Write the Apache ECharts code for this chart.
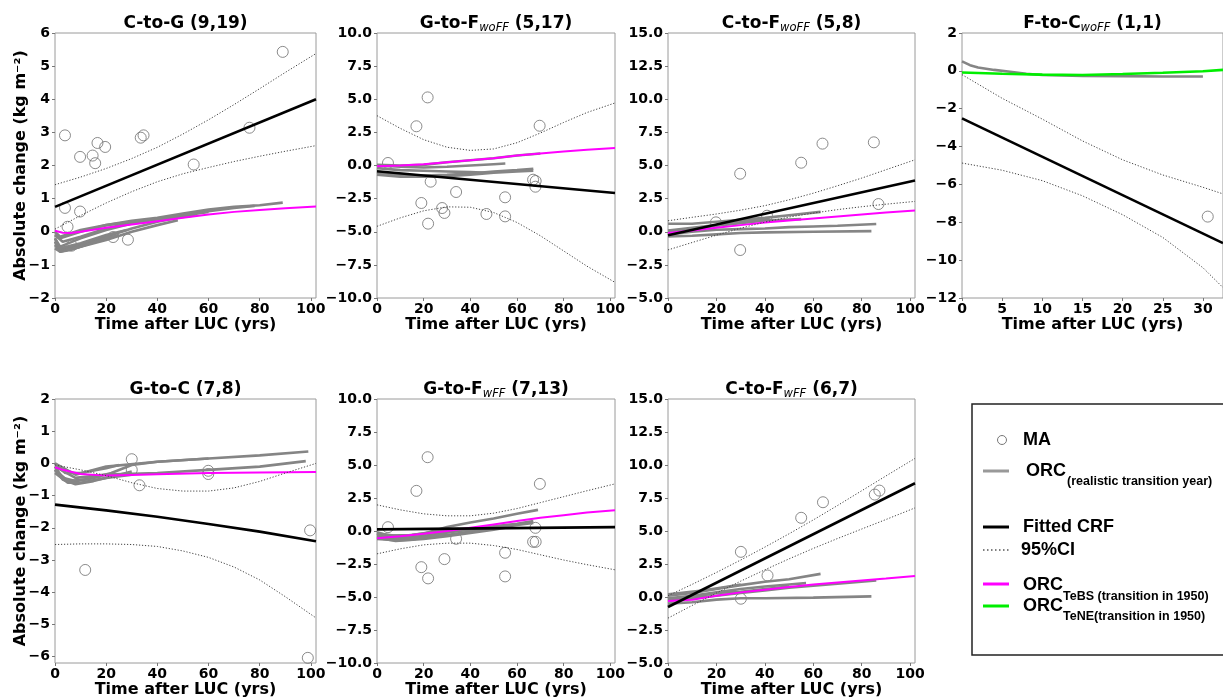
<!DOCTYPE html>
<html><head><meta charset="utf-8">
<script src="https://cdn.jsdelivr.net/npm/echarts@6/dist/echarts.min.js"></script>
<style>html,body{margin:0;padding:0;background:#fff}#c{width:1223px;height:700px}</style>
</head><body><div id="c"></div>
<script>
// ---------- tick labels ----------
const X_TICKS = [0,20,40,60,80,100];
const X_TICKS_FC = [0,5,10,15,20,25,30];
const Y_TICKS_CG = [-2,-1,0,1,2,3,4,5,6];
const Y_TICKS_GF = [-10,-7.5,-5,-2.5,0,2.5,5,7.5,10];
const Y_TICKS_CF = [-5,-2.5,0,2.5,5,7.5,10,12.5,15];
const Y_TICKS_FC = [-12,-10,-8,-6,-4,-2,0,2];
const Y_TICKS_GC = [-6,-5,-4,-3,-2,-1,0,1,2];

// ---------- C-to-G ----------
const cgMA = [[3.9,2.91],[9.8,2.26],[14.7,2.30],[16.6,2.68],[15.7,2.07],[19.6,2.56],[33.5,2.84],[34.6,2.91],[54.2,2.03],[76,3.14],[89,5.43],[3.9,0.72],[9.8,0.61],[4.9,0.15],[6.5,-0.42],[22.7,-0.16],[28.5,-0.24]];
const cgFit = [[0,0.75],[102,4.0]];
const cgUp = [[0,1.42],[10,1.65],[20,1.91],[30,2.21],[40,2.55],[50,2.95],[60,3.38],[70,3.84],[80,4.32],[90,4.81],[102,5.38]];
const cgLo = [[0,0.08],[10,0.49],[20,0.87],[30,1.21],[40,1.51],[50,1.75],[60,1.94],[70,2.12],[80,2.28],[90,2.43],[102,2.6]];
const cgTeBS = [[0,0.03],[3,-0.03],[6,-0.04],[10,0.0],[20,0.12],[30,0.22],[40,0.32],[50,0.42],[60,0.52],[70,0.6],[80,0.66],[90,0.71],[102,0.76]];
const cgORC = [
 [[0,-0.1],[2,-0.2],[10,0.0],[20,0.2],[30,0.33],[40,0.42],[50,0.55],[60,0.67],[70,0.75],[80,0.8],[89,0.88]],
 [[0,-0.2],[2,-0.45],[10,-0.2],[20,0.05],[30,0.25],[40,0.38],[50,0.5],[60,0.62],[70,0.72],[78,0.78]],
 [[0,-0.3],[2,-0.55],[10,-0.4],[20,-0.15],[30,0.1],[40,0.3],[50,0.45],[55,0.5]],
 [[0,-0.4],[2,-0.6],[10,-0.45],[20,-0.25],[30,0.0],[40,0.2],[48,0.35]],
 [[0,-0.1],[3,-0.3],[10,-0.15],[20,0.1],[30,0.28],[35,0.35]],
 [[0,-0.3],[2,-0.55],[8,-0.5],[15,-0.3],[25,-0.1]],
 [[0,-0.2],[2,-0.5],[10,-0.35],[20,-0.1],[28,0.05]],
 [[0,-0.5],[2,-0.6],[6,-0.55],[12,-0.4],[18,-0.25]],
 [[0,0.0],[2,-0.15],[10,0.05],[20,0.2],[30,0.3],[40,0.38],[60,0.6]]
];

// ---------- G-to-F woFF ----------
const gfwoMA = [[4.7,0.19],[16.9,2.96],[21.7,5.14],[23,-1.22],[19,-2.83],[27.9,-3.21],[28.9,-3.58],[21.9,-4.39],[33.9,-2.0],[46.9,-3.66],[54.9,-2.40],[54.9,-3.84],[66.9,-1.07],[68,-1.17],[67.9,-1.6],[69.7,3.0]];
const gfwoFit = [[0,-0.44],[102,-2.08]];
const gfwoUp = [[0,3.76],[10,2.8],[20,1.95],[30,1.38],[40,1.14],[50,1.25],[60,1.72],[70,2.45],[80,3.25],[90,4.0],[102,4.72]];
const gfwoLo = [[0,-4.59],[10,-3.95],[20,-3.42],[30,-3.12],[40,-3.15],[50,-3.55],[60,-4.3],[70,-5.3],[80,-6.45],[90,-7.6],[102,-8.82]];
const gfwoTeBS = [[0,-0.05],[10,0.0],[20,0.1],[30,0.25],[40,0.4],[50,0.55],[60,0.75],[70,0.9],[80,1.05],[90,1.18],[102,1.32]];
const gfwoORC = [
 [[0,0.05],[10,0.0],[20,0.05],[30,0.25],[40,0.4],[50,0.55],[60,0.75],[70,0.9]],
 [[0,0.0],[10,-0.1],[20,-0.15],[30,-0.1],[40,0.0],[50,0.1],[55,0.15]],
 [[0,-0.2],[10,-0.35],[20,-0.4],[30,-0.45],[40,-0.5],[47,-0.55]],
 [[0,-0.55],[10,-0.7],[20,-0.75],[30,-0.7],[40,-0.6],[50,-0.45],[60,-0.35],[67,-0.25]],
 [[0,-0.7],[10,-0.85],[20,-0.85],[30,-0.8],[40,-0.7],[50,-0.55],[60,-0.45],[67,-0.4]]
];

// ---------- C-to-F woFF ----------
const cfwoMA = [[29.8,4.38],[29.8,-1.38],[19.8,0.71],[40.9,1.21],[55,5.21],[63.8,6.65],[85,6.75],[86.9,2.09]];
const cfwoFit = [[0,-0.27],[102,3.86]];
const cfwoUp = [[0,0.83],[10,1.09],[20,1.34],[30,1.63],[40,1.97],[50,2.41],[60,2.91],[70,3.47],[80,4.05],[90,4.68],[102,5.43]];
const cfwoLo = [[0,-1.37],[10,-0.81],[20,-0.26],[30,0.27],[40,0.73],[50,1.11],[60,1.41],[70,1.67],[80,1.89],[90,2.08],[102,2.29]];
const cfwoTeBS = [[0,-0.1],[10,0.1],[20,0.3],[30,0.5],[40,0.7],[50,0.85],[60,1.0],[70,1.15],[80,1.3],[90,1.45],[102,1.6]];
const cfwoORC = [
 [[0,0.6],[10,0.6],[20,0.75],[30,0.9],[40,1.05],[50,1.25],[63,1.5]],
 [[0,0.05],[10,0.2],[20,0.45],[30,0.65],[40,0.85],[55,0.95]],
 [[0,-0.2],[10,0.0],[20,0.15],[30,0.2],[40,0.25],[50,0.35],[60,0.4],[70,0.45],[86,0.58]],
 [[0,-0.35],[10,-0.3],[20,-0.2],[30,-0.1],[40,-0.05],[60,0.0],[84,0.05]],
 [[0,0.1],[10,0.3],[20,0.5],[30,0.75],[40,0.95],[42,1.0]]
];

// ---------- F-to-C woFF ----------
const fcMA = [[30.6,-7.7]];
const fcFit = [[0,-2.51],[32.5,-9.1]];
const fcUp = [[0,-0.2],[5,-1.45],[10,-2.55],[15,-3.7],[20,-4.7],[25,-5.5],[30,-6.15],[32.5,-6.5]];
const fcLo = [[0,-4.87],[5,-5.25],[10,-5.8],[15,-6.6],[20,-7.6],[25,-8.8],[30,-10.4],[32.5,-11.45]];
const fcTeNE = [[0,-0.09],[5,-0.15],[10,-0.2],[15,-0.22],[20,-0.17],[25,-0.1],[30,-0.02],[32.5,0.05]];
const fcORC = [
 [[0,0.5],[1,0.3],[2,0.18],[4,0.05],[6,-0.05],[8,-0.15],[10,-0.22],[15,-0.27],[20,-0.28],[25,-0.3],[30,-0.3]]
];

// ---------- G-to-C ----------
const gcMA = [[30,0.13],[30,-0.2],[33,-0.68],[11.8,-3.31],[59.9,-0.23],[59.9,-0.33],[99.7,-2.08],[98.8,-6.04]];
const gcFit = [[0,-1.28],[20,-1.46],[40,-1.66],[60,-1.88],[80,-2.12],[102,-2.42]];
const gcUp = [[0,-0.05],[10,-0.2],[20,-0.38],[30,-0.6],[40,-0.78],[50,-0.86],[60,-0.86],[70,-0.76],[80,-0.56],[90,-0.3],[102,0.0]];
const gcLo = [[0,-2.52],[10,-2.5],[20,-2.5],[30,-2.52],[40,-2.58],[50,-2.72],[60,-2.92],[70,-3.22],[80,-3.62],[90,-4.14],[102,-4.8]];
const gcTeBS = [[0,-0.12],[3,-0.2],[10,-0.33],[20,-0.38],[30,-0.36],[40,-0.34],[60,-0.3],[80,-0.28],[102,-0.27]];
const gcORC = [
 [[0,0.0],[8,-0.35],[20,-0.1],[40,0.05],[60,0.15],[80,0.25],[99,0.37]],
 [[0,-0.1],[8,-0.45],[20,-0.35],[40,-0.3],[60,-0.2],[80,-0.1],[98,0.07]],
 [[0,-0.2],[3,-0.5],[8,-0.65],[15,-0.55],[25,-0.35],[30,-0.25]],
 [[0,-0.1],[3,-0.45],[8,-0.55],[15,-0.45],[22,-0.3],[30,-0.05],[40,0.05],[60,0.15]],
 [[0,-0.3],[5,-0.6],[10,-0.6],[20,-0.45],[30,-0.35]],
 [[0,0.0],[4,-0.3],[10,-0.3],[20,-0.15],[25,-0.05]],
 [[0,-0.2],[5,-0.55],[12,-0.5],[18,-0.4]]
];

// ---------- G-to-F wFF ----------
const gfwMA = [[4.7,0.29],[16.9,3.04],[21.7,5.59],[19,-2.74],[21.9,-3.59],[28.9,-2.13],[33.9,-0.59],[54.9,-1.65],[54.9,-3.44],[66.9,-0.82],[68,-0.82],[67.9,0.24],[69.8,3.57]];
const gfwFit = [[0,0.12],[102,0.29]];
const gfwUp = [[0,1.98],[10,1.6],[20,1.3],[30,1.15],[40,1.15],[50,1.35],[60,1.7],[70,2.15],[80,2.6],[90,3.05],[102,3.57]];
const gfwLo = [[0,-1.73],[10,-1.35],[20,-1.05],[30,-0.92],[40,-0.92],[50,-1.1],[60,-1.4],[70,-1.8],[80,-2.2],[90,-2.55],[102,-2.94]];
const gfwTeBS = [[0,-0.55],[10,-0.4],[20,-0.2],[30,0.0],[40,0.25],[50,0.5],[60,0.75],[70,1.0],[80,1.2],[90,1.4],[102,1.58]];
const gfwORC = [
 [[0,-0.2],[10,-0.4],[20,-0.2],[30,0.3],[40,0.65],[50,0.95],[60,1.3],[69,1.6]],
 [[0,-0.3],[8,-0.6],[20,-0.4],[30,-0.1],[40,0.15],[50,0.35],[60,0.55],[67,0.75]],
 [[0,-0.4],[8,-0.7],[20,-0.55],[30,-0.3],[40,-0.05],[50,0.2],[60,0.45],[67,0.6]],
 [[0,-0.5],[8,-0.75],[20,-0.6],[30,-0.4],[40,-0.15],[50,0.1],[55,0.25]],
 [[0,-0.2],[5,-0.5],[15,-0.5],[25,-0.25],[35,0.0],[45,0.2]],
 [[0,-0.1],[5,-0.35],[15,-0.3],[25,-0.05],[35,0.15]],
 [[0,-0.6],[8,-0.7],[15,-0.65],[25,-0.35],[30,-0.25]]
];

// ---------- C-to-F wFF ----------
const cfwMA = [[30.1,3.42],[30.1,-0.13],[41.1,1.63],[55,6.0],[64,7.18],[85.4,7.76],[87.3,8.06]];
const cfwFit = [[0,-0.76],[102,8.62]];
const cfwUp = [[0,0.1],[10,0.96],[20,1.86],[30,2.8],[40,3.78],[50,4.79],[60,5.84],[70,6.93],[80,8.05],[90,9.17],[102,10.5]];
const cfwLo = [[0,-1.6],[10,-0.64],[20,0.3],[30,1.2],[40,2.06],[50,2.89],[60,3.68],[70,4.43],[80,5.15],[90,5.87],[102,6.75]];
const cfwTeBS = [[0,-0.3],[10,-0.2],[20,0.1],[30,0.35],[40,0.55],[50,0.75],[60,0.95],[70,1.1],[80,1.25],[90,1.4],[102,1.6]];
const cfwORC = [
 [[0,0.1],[10,0.3],[20,0.6],[30,0.9],[40,1.15],[50,1.35],[63,1.75]],
 [[0,-0.1],[10,0.1],[20,0.35],[30,0.6],[40,0.8],[50,0.95],[57,1.05]],
 [[0,-0.3],[10,-0.1],[20,0.1],[30,0.3],[40,0.5],[50,0.7],[60,0.85],[70,1.0],[86,1.25]],
 [[0,-0.5],[10,-0.4],[20,-0.2],[30,-0.1],[40,-0.1],[60,-0.05],[84,0.05]],
 [[0,0.2],[5,0.3],[15,0.5],[25,0.8],[30,0.95]],
 [[0,-0.2],[10,0.0],[20,0.3],[30,0.4],[40,0.6],[50,0.8]]
];

// ---------- build ----------
const FONT = 'DejaVu Sans';
const LFONT = 'Liberation Sans';
const MINUS = '\u2212';
const fmtInt = v => (v < 0 ? MINUS : '') + Math.abs(v).toFixed(0);
const fmt1 = v => (v < 0 ? MINUS : '') + Math.abs(v).toFixed(1);

const panels = [
 {g:{left:55, top:33, width:261, height:265}, title:'{b|C-to-G (9,19)}', xmax:102, xt:X_TICKS, ymin:-2, ymax:6, yt:Y_TICKS_CG, f:fmtInt, yname:true,
  ma:cgMA, orc:cgORC, fit:cgFit, up:cgUp, lo:cgLo, teb:cgTeBS},
 {g:{left:377, top:33, width:238, height:265}, title:'{b|G-to-F}{s|woFF}{b| (5,17)}', xmax:102, xt:X_TICKS, ymin:-10, ymax:10, yt:Y_TICKS_GF, f:fmt1,
  ma:gfwoMA, orc:gfwoORC, fit:gfwoFit, up:gfwoUp, lo:gfwoLo, teb:gfwoTeBS},
 {g:{left:668, top:33, width:247, height:265}, title:'{b|C-to-F}{s|woFF}{b| (5,8)}', xmax:102, xt:X_TICKS, ymin:-5, ymax:15, yt:Y_TICKS_CF, f:fmt1,
  ma:cfwoMA, orc:cfwoORC, fit:cfwoFit, up:cfwoUp, lo:cfwoLo, teb:cfwoTeBS},
 {g:{left:962, top:33, width:261, height:265}, title:'{b|F-to-C}{s|woFF}{b| (1,1)}', xmax:32.5, xt:X_TICKS_FC, ymin:-12, ymax:2, yt:Y_TICKS_FC, f:fmtInt,
  ma:fcMA, orc:fcORC, fit:fcFit, up:fcUp, lo:fcLo, ten:fcTeNE},
 {g:{left:55, top:399, width:261, height:264}, title:'{b|G-to-C (7,8)}', xmax:102, xt:X_TICKS, ymin:-6.2, ymax:2, yt:Y_TICKS_GC, f:fmtInt, yname:true,
  ma:gcMA, orc:gcORC, fit:gcFit, up:gcUp, lo:gcLo, teb:gcTeBS},
 {g:{left:377, top:399, width:238, height:264}, title:'{b|G-to-F}{s|wFF}{b| (7,13)}', xmax:102, xt:X_TICKS, ymin:-10, ymax:10, yt:Y_TICKS_GF, f:fmt1,
  ma:gfwMA, orc:gfwORC, fit:gfwFit, up:gfwUp, lo:gfwLo, teb:gfwTeBS},
 {g:{left:668, top:399, width:247, height:264}, title:'{b|C-to-F}{s|wFF}{b| (6,7)}', xmax:102, xt:X_TICKS, ymin:-5, ymax:15, yt:Y_TICKS_CF, f:fmt1,
  ma:cfwMA, orc:cfwORC, fit:cfwFit, up:cfwUp, lo:cfwLo, teb:cfwTeBS}
];

const grid = [], xAxis = [], yAxis = [], series = [], title = [];
const titleRich = {
  b: {fontFamily: FONT, fontWeight: 'bold', fontSize: 17, color: '#000', lineHeight: 20},
  s: {fontFamily: FONT, fontWeight: 'normal', fontStyle: 'italic', fontSize: 11.5, color: '#000', lineHeight: 12, verticalAlign: 'bottom'}
};
panels.forEach((p, i) => {
  grid.push(Object.assign({show: true, borderColor: '#9a9a9a', borderWidth: 1, containLabel: false}, p.g));
  title.push({text: p.title, left: p.g.left + p.g.width / 2, top: p.g.top - 19, textAlign: 'center', padding: 0,
    textStyle: {rich: titleRich}});
  xAxis.push({type: 'value', gridIndex: i, min: 0, max: p.xmax, splitLine: {show: false},
    axisLine: {show: false, onZero: false},
    axisTick: {show: true, length: 3, lineStyle: {color: '#777'}, customValues: p.xt},
    axisLabel: {customValues: p.xt, margin: 4, color: '#000', fontFamily: FONT, fontWeight: 'bold', fontSize: 14},
    name: 'Time after LUC (yrs)', nameLocation: 'middle', nameGap: 19,
    nameTextStyle: {fontFamily: FONT, fontWeight: 'bold', fontSize: 16, color: '#000'}});
  yAxis.push({type: 'value', gridIndex: i, min: p.ymin, max: p.ymax, splitLine: {show: false},
    axisLine: {show: false, onZero: false},
    axisTick: {show: true, length: 3, lineStyle: {color: '#777'}, customValues: p.yt},
    axisLabel: {customValues: p.yt, margin: 5, color: '#000', fontFamily: FONT, fontWeight: 'bold', fontSize: 14, formatter: p.f},
    name: p.yname ? 'Absolute change (kg m\u207B\u00B2)' : '', nameLocation: 'middle', nameGap: 26, nameMoveOverlap: false,
    nameTextStyle: {fontFamily: FONT, fontWeight: 'bold', fontSize: 16, color: '#000'}});
  const base = {xAxisIndex: i, yAxisIndex: i, silent: true, animation: false};
  series.push(Object.assign({type: 'scatter', data: p.ma, symbol: 'circle', symbolSize: 11,
    itemStyle: {color: 'rgba(0,0,0,0)', borderColor: '#6e6e6e', borderWidth: 1}}, base));
  p.orc.forEach(l => series.push(Object.assign({type: 'line', data: l, showSymbol: false, symbol: 'none',
    lineStyle: {color: '#858585', width: 2.6}}, base)));
  if (p.teb) series.push(Object.assign({type: 'line', data: p.teb, showSymbol: false, symbol: 'none',
    lineStyle: {color: '#ff00ff', width: 2}}, base));
  if (p.ten) series.push(Object.assign({type: 'line', data: p.ten, showSymbol: false, symbol: 'none',
    lineStyle: {color: '#00ee00', width: 2.6}}, base));
  series.push(Object.assign({type: 'line', data: p.fit, showSymbol: false, symbol: 'none',
    lineStyle: {color: '#000', width: 2.6}}, base));
  [p.up, p.lo].forEach(c => series.push(Object.assign({type: 'line', data: c, showSymbol: false, symbol: 'none',
    lineStyle: {color: '#444', width: 1, type: [1.2, 1.8]}}, base)));
});

// ---------- legend box ----------
const lt = (t, x, y, size) => ({type: 'text', x: x, y: y, style: {text: t, fontFamily: LFONT, fontWeight: 'bold', fontSize: size, fill: '#000', textVerticalAlign: 'middle', verticalAlign: 'middle'}});
const ll = (y, color, w, dash) => ({type: 'line', shape: {x1: 983, y1: y, x2: 1009, y2: y}, style: {stroke: color, lineWidth: w, lineDash: dash || null}});
const graphic = [
  {type: 'rect', shape: {x: 972, y: 404, width: 270, height: 251}, style: {fill: 'none', stroke: '#222', lineWidth: 1.5}},
  {type: 'circle', shape: {cx: 1002, cy: 440, r: 4.5}, style: {fill: 'none', stroke: '#777', lineWidth: 1}},
  lt('MA', 1023, 440, 18),
  ll(471, '#999', 3),
  lt('ORC', 1026, 471, 18), lt('(realistic transition year)', 1067, 482, 12.5),
  ll(527, '#000', 3),
  lt('Fitted CRF', 1023, 527, 18),
  ll(550, '#555', 1.5, [1.5, 2.5]),
  lt('95%CI', 1021, 550, 18),
  ll(584, '#ff00ff', 3),
  lt('ORC', 1023, 585, 18), lt('TeBS (transition in 1950)', 1063, 597, 12.5),
  ll(606, '#00ee00', 3),
  lt('ORC', 1023, 606, 18), lt('TeNE(transition in 1950)', 1063, 617, 12.5)
];

const chart = echarts.init(document.getElementById('c'), null, {renderer: 'canvas'});
chart.setOption({
  animation: false,
  backgroundColor: '#fff',
  textStyle: {fontFamily: FONT},
  title: title, grid: grid, xAxis: xAxis, yAxis: yAxis, series: series, graphic: graphic
});
</script></body></html>
